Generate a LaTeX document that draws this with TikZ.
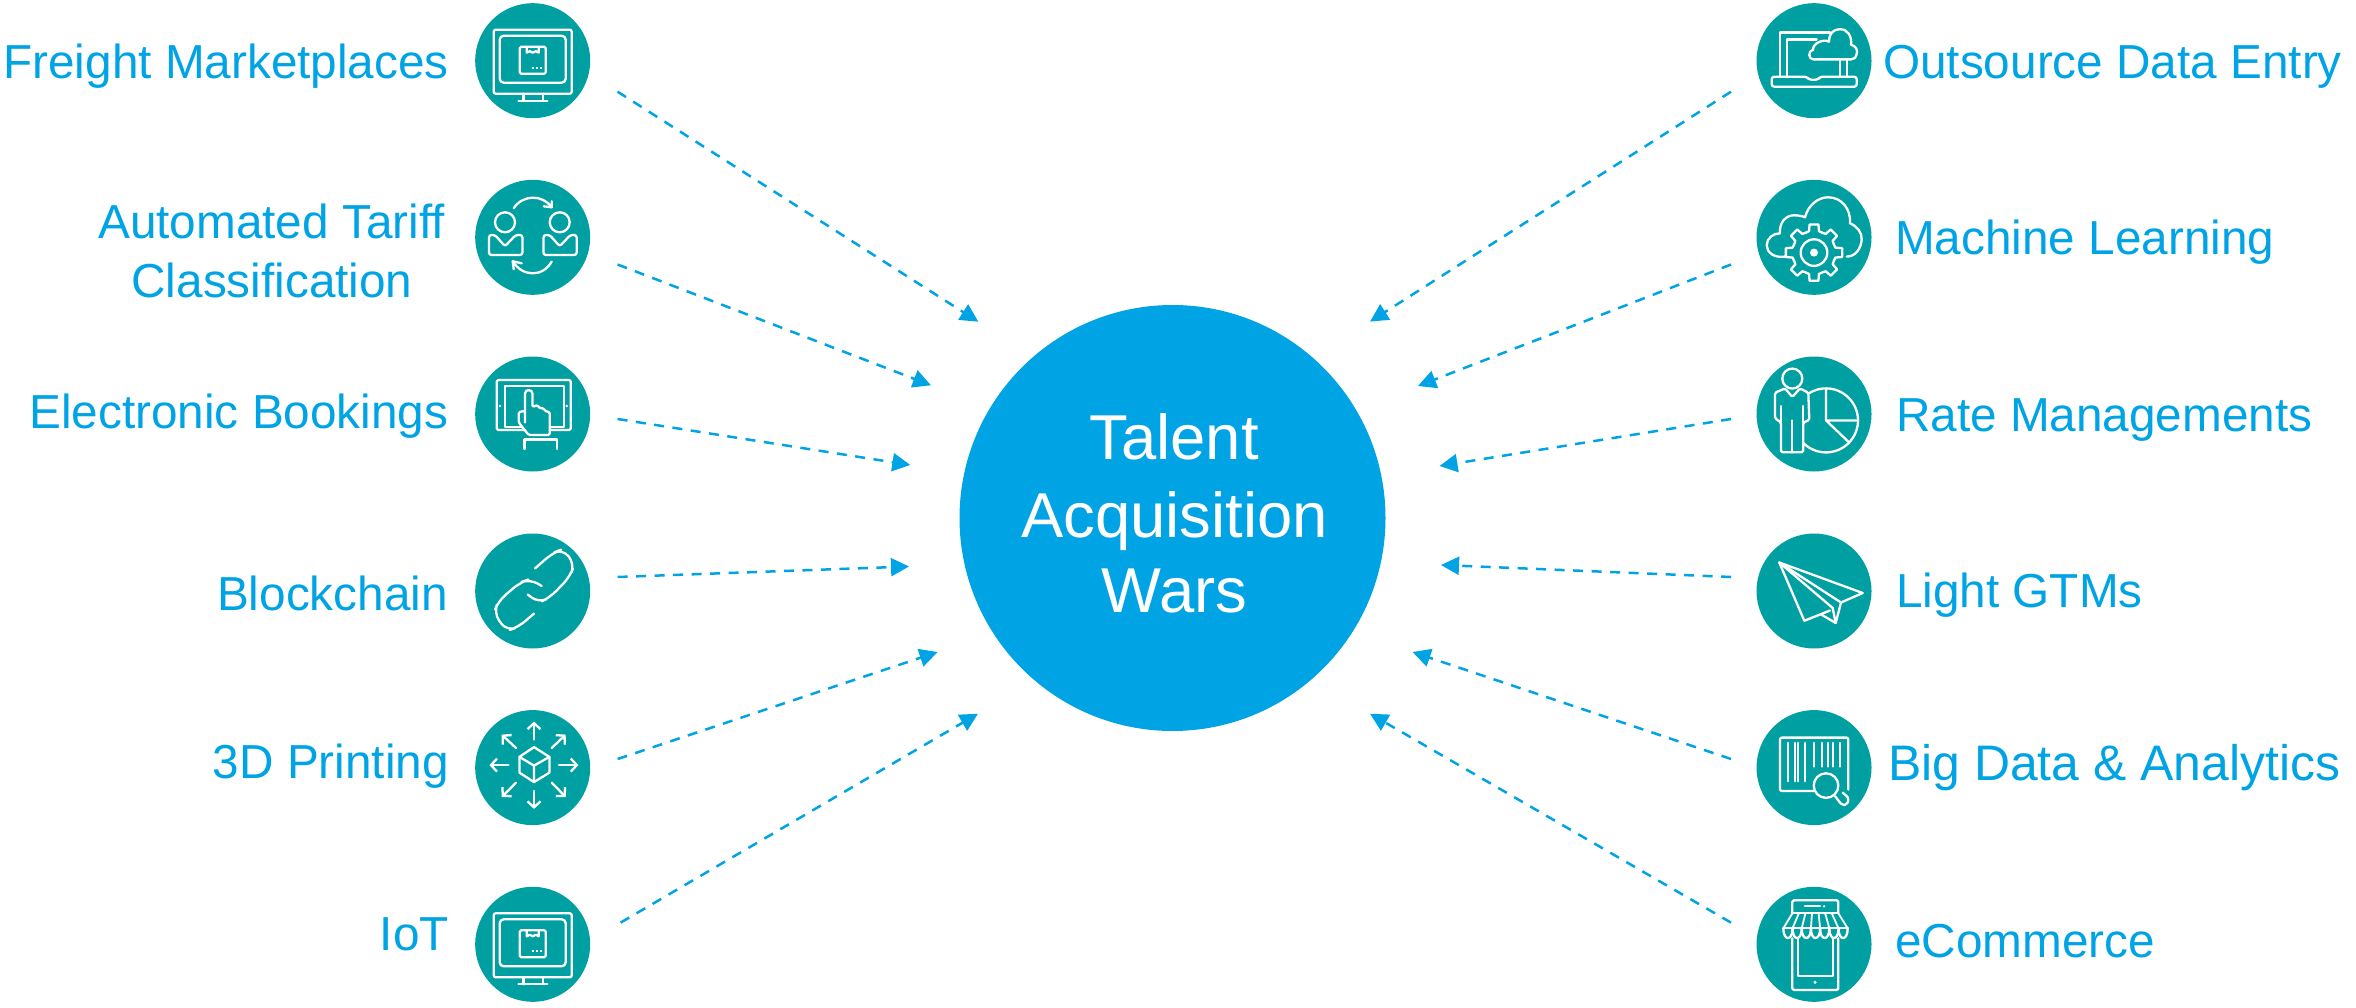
\documentclass[tikz,border=0pt]{standalone}
\usepackage{fontspec}
\setmainfont{Liberation Sans}
\usetikzlibrary{arrows.meta}
\definecolor{hubblue}{HTML}{00A3E4}
\definecolor{iconteal}{HTML}{009FA1}
\newcommand{\lbl}{\fontsize{47.7}{58}\selectfont}
\newcommand{\lblbig}{\fontsize{49.9}{58}\selectfont}
\newcommand{\hublbl}{\fontsize{63.4}{77}\selectfont}
\tikzset{
  disc/.style={circle,fill=iconteal,minimum size=115pt,inner sep=0pt},
  hub/.style={circle,fill=hubblue,minimum size=426pt,inner sep=0pt},
  leftlabel/.style={anchor=base east,inner sep=0pt,text=hubblue,font=\lbl},
  rightlabel/.style={anchor=base west,inner sep=0pt,text=hubblue,font=\lbl},
  midlabel/.style={anchor=base,inner sep=0pt,text=hubblue,font=\lbl,align=center},
  hubtext/.style={anchor=base,inner sep=0pt,text=white,font=\hublbl},
  feed/.style={draw=hubblue,line width=2.5pt,dash pattern=on 10pt off 8.5pt,
    -{Triangle[length=18pt,width=18pt,fill=hubblue]}},
  ink/.style={draw=white,line width=2.3pt,line join=round,line cap=round},
  inkthin/.style={draw=white,line width=1.8pt,line join=round,line cap=round},
  barb/.style={-{Straight Barb[length=6pt,width=13pt,line width=2.3pt]}},
  monitoricon/.pic={
    \draw[ink,rounded corners=2pt] (-39,-31) rectangle (39,33);
    \draw[ink,rounded corners=4pt] (-33,-25) rectangle (33,22);
    \draw[ink,rounded corners=1.5pt] (-13,-14) rectangle (13,13);
    \draw[ink] (-6,-14) -- (-6,-8) -- (-3,-9.5) -- (0,-8) -- (3,-9.5) -- (6,-8) -- (6,-14);
    \draw[ink,dash pattern=on 2pt off 2pt,line cap=butt] (-1,7) -- (9,7);
    \draw[ink] (-9.3,33) -- (-9.3,40) (10,33) -- (10,40) (-14.3,40) -- (14.7,40);
  },
  swapicon/.pic={
    \draw[ink] (-27.7,-15) circle[radius=10pt] (27,-15) circle[radius=10pt];
    \draw[ink,rounded corners=2.5pt] (-43.7,17.7) -- (-43.7,-2.3) -- (-37.7,-2.3) -- (-27.7,9) -- (-17,-2.3) -- (-10.3,-2.3) -- (-10.3,17.7) -- cycle;
    \draw[ink,rounded corners=2.5pt] (10.7,17.7) -- (10.7,-2.3) -- (17,-2.3) -- (27,9) -- (37.7,-2.3) -- (44,-2.3) -- (44,17.7) -- cycle;
    \draw[ink] (-19,-29) .. controls (-10,-43) and (10,-43) .. (19,-30);
    \draw[ink] (19,-36) -- (19,-30) -- (11,-31);
    \draw[ink] (19,24.3) .. controls (10,40) and (-10,40) .. (-20,24);
    \draw[ink] (-11,26) -- (-20,24) -- (-19,32);
  },
  touchicon/.pic={
    \draw[ink,rounded corners=1.5pt] (-36,-34) rectangle (38,16);
    \draw[inkthin] (-27.7,-28) rectangle (31,13);
    \fill[white] (-32.7,-8) circle[radius=1.4pt] (34,-8) circle[radius=1.4pt];
    \fill[iconteal,rounded corners=2pt] (-14,-24) -- (-14,8.5) -- (-4,21) -- (17,21) -- (17,-6) -- (-1,-10) -- (-1,-24) -- cycle;
    \draw[ink,rounded corners=1.5pt] (-7.7,8.5) -- (-7.7,-19) .. controls (-7.7,-25) and (-0.3,-25) .. (-0.3,-19) -- (-0.3,-7) -- (5,-9) -- (7,-5.5) -- (11,-6) -- (12,-3) -- (17,-2) -- (17,21) -- (-4,21) -- (-14,8.5) -- (-14,-2) -- (-7.7,-3);
    \draw[ink] (-8.3,35) -- (-8.3,25.6) -- (24,25.6) -- (24,35);
  },
  linkicon/.pic={
    \draw[ink,rounded corners=9pt] (2.3,-22.6) -- (20,-38) -- (30,-42) -- (42,-27) -- (37,-14) -- (17.3,6.4) -- (5.7,12) -- (-5,3.4);
    \draw[ink,rounded corners=9pt] (9,-5) -- (-2.7,-12) -- (-12.7,-8.5) -- (-34.3,10) -- (-39,22) -- (-26,40) -- (-14.3,36) -- (1.3,22.6);
  },
  cubeicon/.pic={
    \draw[ink] (1.3,-20.5) -- (16.7,-10.7) -- (16.7,5) -- (1.3,14.5) -- (-13.3,5) -- (-13.3,-10.7) -- cycle;
    \draw[ink] (-13.3,-10.7) -- (1.3,-2) -- (16.7,-10.7) (1.3,-2) -- (1.3,14.5);
    \draw[ink,barb] (1.3,-28) -- (1.3,-46);
    \draw[ink,barb] (1.3,23.4) -- (1.3,41.3);
    \draw[ink,barb] (-24.3,-2.5) -- (-43.3,-2.5);
    \draw[ink,barb] (26.3,-2.5) -- (45.7,-2.5);
    \draw[ink,barb] (19,-19.6) -- (33,-33);
    \draw[ink,barb] (-16.7,-19.6) -- (-31,-33);
    \draw[ink,barb] (-16.7,15) -- (-31,29.4);
    \draw[ink,barb] (19,15) -- (33,29.4);
  },
  laptopicon/.pic={
    \draw[ink] (-34,16) -- (-34,-28.3) -- (16,-28.3);
    \draw[ink] (-26.7,16) -- (-26.7,-21.3) -- (2.7,-21.3);
    \draw[ink] (26,-1.3) -- (26,16) (32.7,-1.3) -- (32.7,16);
    \draw[ink,rounded corners=2.5pt] (-42.3,16) -- (-42.3,26) -- (42.7,26) -- (42.7,16) -- (6,16) -- (4,19) -- (-5,19) -- (-7.3,16) -- cycle;
    \draw[ink] (-0.7,-1.3) .. controls (-6,-1.3) and (-6,-10) .. (-1,-11)
      .. controls (-1,-18) and (10,-22) .. (15,-19)
      .. controls (15,-28) and (20,-31.5) .. (26,-31.5)
      .. controls (34,-31.5) and (38,-24) .. (37,-16)
      .. controls (42,-15) and (44,-10) .. (42.7,-7)
      .. controls (42,-3) and (40,-1.3) .. (37,-1.3) -- cycle;
  },
  gearicon/.pic={
    \draw[ink] (-29,19.3) .. controls (-40,21) and (-47.3,15) .. (-47.3,8)
      .. controls (-47.3,1) and (-41,-4) .. (-34,-4)
      .. controls (-35,-15) and (-28,-22) .. (-20,-22)
      .. controls (-15,-22) and (-11,-21) .. (-9,-20)
      .. controls (-6,-32) and (4,-40) .. (14,-40)
      .. controls (28,-40) and (37,-28) .. (36,-14)
      .. controls (43,-11) and (48,-5) .. (47.7,2)
      .. controls (47,12) and (41,19.3) .. (32.7,19.3);
    \begin{scope}[shift={(0,15.3)}]
      \foreach \a in {0,45,...,315}{
        \draw[ink] (\a-22.5:21.5) -- (\a-13:22) -- (\a-9:28.5) -- (\a+9:28.5) -- (\a+13:22) -- (\a+22.5:21.5);
      }
      \draw[ink] (0,0) circle[radius=13.3pt];
      \fill[white] (0,0) circle[radius=4pt];
    \end{scope}
  },
  charticon/.pic={
    \draw[ink] (-21.7,-35.4) circle[radius=10pt];
    \draw[ink,rounded corners=1.5pt] (-29,-25.6) -- (-21.7,-17) -- (-14,-25.6) -- (-5.7,-21.3) -- (-4.7,6) -- (-10.7,8.5) -- (-10.7,38.3) -- (-33,38.3) -- (-33,8.5) -- (-39,4.3) -- (-39,-21.3) -- cycle;
    \draw[ink] (-21.7,6.4) -- (-21.7,38.3);
    \draw[ink] (-33,8.5) -- (-33,-8) (-10.7,8.5) -- (-10.7,-8);
    \draw[ink] plot[domain=-122:135,samples=60] ({12+32*cos(\x)},{6.4+32*sin(\x)});
    \draw[ink] (12,-25.6) -- (12,6.4) -- (44,6.4) (12,6.4) -- (34.3,27.7);
  },
  planeicon/.pic={
    \draw[ink] (-34.7,-28.5) -- (48.7,2) -- (27,11.5) -- cycle;
    \draw[ink] (-34.7,-28.5) -- (-9.7,29.8) -- (16,19.5);
    \draw[ink] (-34.7,-28.5) -- (18.7,17) -- (21.7,32) -- (27,11.5);
    \draw[ink] (21.7,32) -- (8,24);
  },
  barcodeicon/.pic={
    \draw[ink,rounded corners=2pt] (34.3,22) -- (34.3,-30) -- (-34,-30) -- (-34,23.4) -- (0,23.4);
    \foreach \x in {-25.7,-19,-15.7,-9}{\draw[ink] (\x,-24.7) -- (\x,13.6);}
    \foreach \x in {0,7.7,14.3,19.3,26}{\draw[ink] (\x,-24.7) -- (\x,-1);}
    \draw[ink] (12,18) circle[radius=12.3pt];
    \draw[ink,rounded corners=2pt] (21,28.5) -- (27.7,37.3) -- (32.7,37.3) -- (35,30.7) -- (28.7,25);
  },
  shopicon/.pic={
    \draw[ink,rounded corners=1.5pt] (-21.7,-31) -- (-21.7,-44) -- (24.3,-44) -- (24.3,-31);
    \draw[ink] (-9,-38) -- (6,-38);
    \fill[white] (10,-38) circle[radius=1.3pt];
    \draw[ink] (-21.7,-31) -- (24.3,-31);
    \draw[ink] (-30.7,-16) -- (33.7,-16);
    \foreach \i in {0,...,7}{\draw[inkthin] ({-21.7+6.57*\i},-31) -- ({-30.7+9.2*\i},-16);}
    \foreach \i in {0,...,6}{\draw[ink] ({-30.7+9.2*\i},-16) .. controls ({-30.7+9.2*\i},-3) and ({-21.5+9.2*\i},-3) .. ({-21.5+9.2*\i},-16);}
    \draw[ink,rounded corners=2pt] (-21.7,-6) -- (-21.7,45.6) -- (24.3,45.6) -- (24.3,-6);
    \draw[ink] (-16.3,-6) -- (-16.3,31.5) -- (19.3,31.5) -- (19.3,-6);
    \fill[white] (1,38) circle[radius=1.7pt];
  },
}
\begin{document}
\begin{tikzpicture}[x=1pt,y=-1pt]
\useasboundingbox (0,0) rectangle (2356,1008);
% hub
\node[hub] (hub) at (1172.5,518) {};
\node[hubtext] (t1) at (1174,459) {Talent};
\node[hubtext] (t2) at (1174.5,537) {Acquisition};
\node[hubtext] (t3) at (1174.5,612) {Wars};
% left discs
\node[disc] (L1) at (532.7,60.7) {};
\node[disc] (L2) at (532.7,237.3) {};
\node[disc] (L3) at (532.7,414) {};
\node[disc] (L4) at (532.7,591) {};
\node[disc] (L5) at (532.7,767.6) {};
\node[disc] (L6) at (532.7,944.3) {};
% right discs
\node[disc] (R1) at (1814,60.7) {};
\node[disc] (R2) at (1814,237.3) {};
\node[disc] (R3) at (1814,414) {};
\node[disc] (R4) at (1814,591) {};
\node[disc] (R5) at (1814,767.6) {};
\node[disc] (R6) at (1814,944.3) {};
% icons
\pic at (L1) {monitoricon};
\pic at (L2) {swapicon};
\pic at (L3) {touchicon};
\pic at (L4) {linkicon};
\pic at (L5) {cubeicon};
\pic at (L6) {monitoricon};
\pic at (R1) {laptopicon};
\pic at (R2) {gearicon};
\pic at (R3) {charticon};
\pic at (R4) {planeicon};
\pic at (R5) {barcodeicon};
\pic at (R6) {shopicon};
% labels
\node[leftlabel] (l1) at (449,78.5) {Freight Marketplaces};
\node[midlabel] (l2a) at (271.5,239) {Automated Tariff};
\node[midlabel] (l2b) at (272,298) {Classification};
\node[leftlabel] (l3) at (448.5,428) {Electronic Bookings};
\node[leftlabel] (l4) at (448,610.5) {Blockchain};
\node[leftlabel] (l5) at (449,778) {3D Printing};
\node[leftlabel] (l6) at (449,950) {IoT};
\node[rightlabel] (r1) at (1883,79) {Outsource Data Entry};
\node[rightlabel] (r2) at (1895,255) {Machine Learning};
\node[rightlabel] (r3) at (1896,431) {Rate Managements};
\node[rightlabel] (r4) at (1896,607) {Light GTMs};
\node[rightlabel,font=\lblbig] (r5) at (1888,780) {Big Data \& Analytics};
\node[rightlabel] (r6) at (1895,957) {eCommerce};
% connector ends
\coordinate (a1) at (617.6,91.7);  \coordinate (b1) at (978.3,321.7);
\coordinate (a2) at (617.6,264.5); \coordinate (b2) at (931,385.3);
\coordinate (a3) at (617.6,419);   \coordinate (b3) at (910.3,465);
\coordinate (a4) at (617.6,577);   \coordinate (b4) at (909,566.5);
\coordinate (a5) at (617.6,759);   \coordinate (b5) at (937.6,652);
\coordinate (a6) at (620.6,922.6); \coordinate (b6) at (978,713.7);
\coordinate (c1) at (1731,91.7);   \coordinate (d1) at (1370,321.6);
\coordinate (c2) at (1731,264.5);  \coordinate (d2) at (1418,386);
\coordinate (c3) at (1731,419);    \coordinate (d3) at (1439.5,466);
\coordinate (c4) at (1731,577);    \coordinate (d4) at (1441,565);
\coordinate (c5) at (1731,759);    \coordinate (d5) at (1412.5,652);
\coordinate (c6) at (1731,922.6);  \coordinate (d6) at (1370,713.7);
\foreach \i in {1,...,6}{
  \draw[feed] (a\i) -- (b\i);
  \draw[feed] (c\i) -- (d\i);
}
\end{tikzpicture}
\end{document}
